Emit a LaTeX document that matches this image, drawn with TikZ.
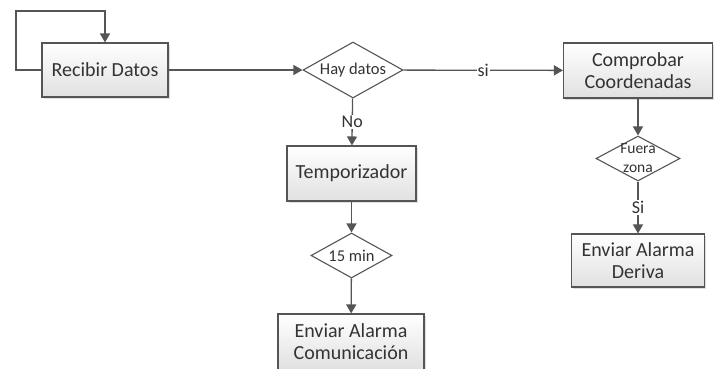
\documentclass[tikz,border=0pt]{standalone}
\usepackage{fontspec}
\setmainfont{Carlito}
\usetikzlibrary{arrows.meta,shapes.geometric,shadows}
\definecolor{linegray}{HTML}{555555}
\definecolor{textgray}{HTML}{333333}
\tikzset{
    proc/.style={draw=linegray, line width=1.1pt, top color=white, bottom color=black!12,
        drop shadow={shadow xshift=1.5pt, shadow yshift=-1.5pt, opacity=0.25},
        text=textgray, font=\fontsize{20}{22}\selectfont, align=center, inner sep=0pt},
    decis/.style={diamond, draw=linegray, line width=1.1pt, fill=white, aspect=2,
        text=textgray, font=\fontsize{16.5}{17}\selectfont, inner sep=0pt},
    arr/.style={draw=linegray, line width=1.3pt, -{Triangle[length=9pt,width=10pt]}},
    lbl/.style={fill=white, text=textgray, font=\fontsize{18}{18}\selectfont, inner sep=1pt}
}
\begin{document}
\begin{tikzpicture}[x=1pt,y=-1pt]

    \useasboundingbox (0,0) rectangle (716,368);

    \node[proc, minimum width=126pt, minimum height=54pt] (recibir) at (105,70) {Recibir Datos};
    \node[decis, minimum width=100pt, minimum height=56pt] (hay) at (353,70) {Hay datos};
    \node[proc, minimum width=149pt, minimum height=55pt] (comprobar) at (638,70.5) {Comprobar\\Coordenadas};
    \node[proc, minimum width=129pt, minimum height=55pt] (temp) at (351.5,173.5) {Temporizador};
    \node[decis, minimum width=81pt, minimum height=45pt] (quince) at (351.5,255.5) {15 min};
    \node[proc, minimum width=146pt, minimum height=56pt] (comunic) at (351,342) {Enviar Alarma\\Comunicación};
    \node[decis, minimum width=84pt, minimum height=45pt,
        label={[text=textgray, font=\fontsize{15.5}{19}\selectfont, align=center]center:Fuera\\zona}] (fuera) at (638,158.5) {};
    \node[proc, minimum width=133pt, minimum height=53pt] (deriva) at (638,260.5) {Enviar Alarma\\Deriva};

    \coordinate (loop) at (16,11);
    \draw[arr] (recibir.west) -| (loop) -| (recibir.north);
    \draw[arr] (recibir) -- (hay);
    \draw[arr] (hay) -- node[lbl] {si} (comprobar);
    \draw[arr] (hay) -- node[lbl] {No} (temp);
    \draw[arr] (temp) -- (quince);
    \draw[arr] (quince) -- (comunic);
    \draw[arr] (comprobar) -- (fuera);
    \draw[arr] (fuera) -- node[lbl] {Si} (deriva);
        \end{tikzpicture}
\end{document}
